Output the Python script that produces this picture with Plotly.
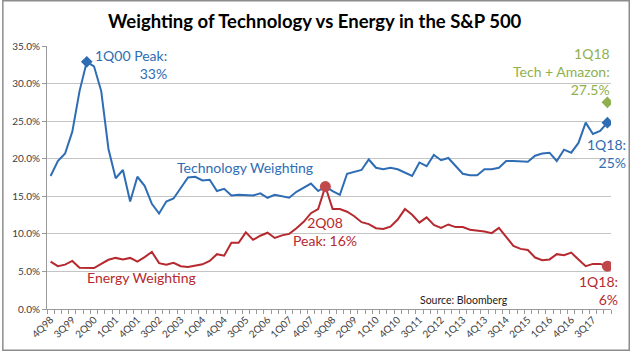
import plotly.graph_objects as go

# ---------------- data ----------------
years = list(range(1999, 2018))
quarters = ["4Q98"] + [f"{q}Q{str(y)[2:]}" for y in years for q in (1, 2, 3, 4)] + ["1Q18"]

tick_labels = ["4Q98", "3Q99", "2Q00", "1Q01", "4Q01", "3Q02", "2Q03", "1Q04", "4Q04",
               "3Q05", "2Q06", "1Q07", "4Q07", "3Q08", "2Q09", "1Q10", "4Q10", "3Q11",
               "2Q12", "1Q13", "4Q13", "3Q14", "2Q15", "1Q16", "4Q16", "3Q17"]

tech = [17.7, 19.7, 20.7, 23.6, 29.0, 32.9, 32.3, 29.0, 21.3, 17.4,
        18.5, 14.3, 17.6, 16.4, 14.0, 12.7, 14.3, 14.7, 16.1, 17.5,
        17.6, 17.1, 17.2, 15.7, 16.0, 15.1, 15.2, 15.2, 15.1, 15.4,
        14.8, 15.2, 15.0, 14.8, 15.6, 16.2, 16.7, 15.7, 16.3, 15.7,
        15.2, 18.0, 18.3, 18.5, 19.9, 18.8, 18.6, 18.8, 18.6, 18.1,
        17.7, 19.5, 19.0, 20.5, 19.8, 20.1, 19.1, 18.0, 17.8, 17.8,
        18.6, 18.6, 18.8, 19.7, 19.7, 19.7, 19.6, 20.4, 20.7, 20.8,
        19.7, 21.2, 20.8, 22.1, 24.8, 23.3, 23.7, 24.8]

energy = [6.3, 5.7, 5.9, 6.4, 5.5, 5.45, 5.45, 6.0, 6.55, 6.8,
          6.6, 6.8, 6.3, 6.9, 7.6, 6.1, 5.9, 6.15, 5.7, 5.6,
          5.75, 5.95, 6.4, 7.3, 7.1, 8.8, 8.8, 10.2, 9.2, 9.75,
          10.15, 9.45, 9.8, 10.0, 10.75, 11.6, 12.75, 13.3, 16.3, 13.3,
          13.3, 12.95, 12.35, 11.55, 11.3, 10.75, 10.65, 10.95, 11.9, 13.3,
          12.55, 11.5, 12.2, 11.2, 10.8, 11.25, 10.9, 10.9, 10.55, 10.45,
          10.3, 10.1, 10.8, 9.6, 8.4, 8.0, 7.85, 6.85, 6.5, 6.6,
          7.3, 7.15, 7.5, 6.6, 5.7, 6.0, 6.0, 5.7]

tech_plus_amazon_1q18 = 27.5

tech_marker_idx = [5, 77]
energy_marker_idx = [38, 77]

# ---------------- styling ----------------
BLUE = "#2E6DB4"
RED = "#B5292F"
RED_MK = "#C0474A"
GREEN = "#8FB04F"
GRID = "#C4C4C4"
AXIS = "#9A9A9A"
TXT = "#404040"
FONT = "Lato"

x = list(range(len(quarters)))
tech_f = [v / 100 for v in tech]
energy_f = [v / 100 for v in energy]

fig = go.Figure()
fig.add_trace(go.Scatter(x=x, y=tech_f, mode="lines", line=dict(color=BLUE, width=2),
                         hoverinfo="skip", showlegend=False))
fig.add_trace(go.Scatter(x=x, y=energy_f, mode="lines", line=dict(color=RED, width=2),
                         hoverinfo="skip", showlegend=False))
fig.add_trace(go.Scatter(x=tech_marker_idx, y=[tech_f[i] for i in tech_marker_idx], mode="markers",
                         marker=dict(symbol="diamond", size=9, color=BLUE), showlegend=False))
fig.add_trace(go.Scatter(x=energy_marker_idx, y=[energy_f[i] for i in energy_marker_idx], mode="markers",
                         marker=dict(symbol="circle", size=11, color=RED_MK), showlegend=False))
fig.add_trace(go.Scatter(x=[len(quarters) - 1], y=[tech_plus_amazon_1q18 / 100], mode="markers",
                         marker=dict(symbol="diamond", size=9, color=GREEN), showlegend=False))

tick_idx = [quarters.index(t) for t in tick_labels]

fig.update_xaxes(
    range=[-0.5, len(quarters) - 0.5],
    tickmode="array", tickvals=tick_idx, ticktext=tick_labels,
    tickangle=-45, ticks="", showgrid=False, zeroline=False,
    showline=True, linecolor=AXIS, linewidth=1,
    tickfont=dict(family=FONT, size=10, color=TXT),
    minor=dict(tick0=-0.5, dtick=1, ticks="outside", ticklen=4, tickcolor=AXIS, showgrid=False),
)
fig.update_yaxes(
    range=[0, 0.35], dtick=0.05, tick0=0, tickformat=".1%",
    showgrid=True, gridcolor=GRID, gridwidth=1, zeroline=False,
    showline=True, linecolor=AXIS, linewidth=1,
    ticks="outside", ticklen=4, tickcolor=AXIS,
    tickfont=dict(family=FONT, size=10, color=TXT),
)

ann = []
def A(text, xv, yv, color, size=14, xanchor="center", align="center", xshift=0, yshift=0, xref="x", yref="y"):
    ann.append(dict(text=text, x=xv, y=yv, xref=xref, yref=yref, showarrow=False,
                    font=dict(family=FONT, size=size, color=color),
                    xanchor=xanchor, yanchor="middle", align=align,
                    xshift=xshift, yshift=yshift))

A("1Q00 Peak:<br>33%", 5, tech_f[5], BLUE, size=14, xanchor="right", align="right", xshift=82, yshift=-3)
A("Technology Weighting", 26.9, 0.1885, BLUE, size=14)
A("Energy Weighting", 12.5, 0.0415, RED, size=14)
A("2Q08<br>Peak: 16%", 38, 0.1025, RED, size=14)
A("1Q18<br>Tech + Amazon:<br>27.5%", 77.5, 0.3155, GREEN, size=14, xanchor="right", align="right", xshift=1)
A("1Q18:<br>25%", 77.5, 0.2075, BLUE, size=14, xanchor="right", align="right", xshift=17)
A("1Q18:<br>6%", 77.5, 0.0252, RED, size=14, xanchor="right", align="right", xshift=9)
A("Source: Bloomberg", 0.740, 0.034, "#1A1A1A", size=10.5, xref="paper", yref="paper")
A("<b>Weighting of Technology vs Energy in the S&P 500</b>", 0.475, 1.094, "#000000", size=18.5,
  xref="paper", yref="paper")

fig.update_layout(
    width=630, height=352,
    margin=dict(l=45, r=19, t=46, b=42),
    paper_bgcolor="white", plot_bgcolor="white",
    annotations=ann,
    shapes=[dict(type="rect", xref="paper", yref="paper",
                 x0=-45 / 566 + 0.0012, x1=1 + 19 / 566 - 0.0012,
                 y0=-42 / 264 + 0.002, y1=1 + 46 / 264 - 0.002,
                 line=dict(color="#8C8C8C", width=1.5), fillcolor="rgba(0,0,0,0)", layer="below")],
    showlegend=False,
)

fig.write_html("out.html")
